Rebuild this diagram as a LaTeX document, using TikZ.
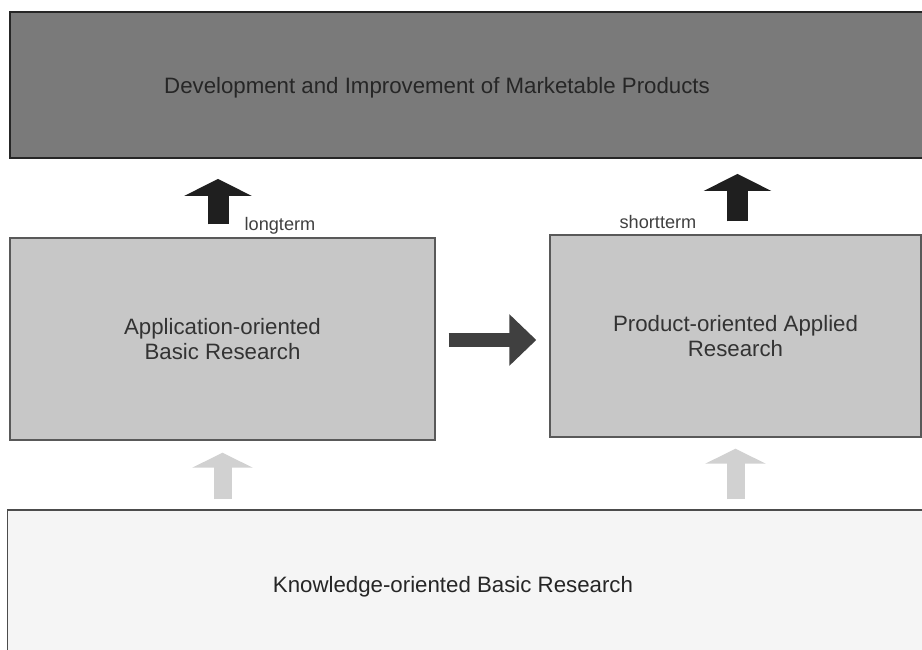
\documentclass[tikz,border=0pt]{standalone}
\usepackage{fontspec}
\setmainfont{Liberation Sans}
\usetikzlibrary{arrows.meta}
\tikzstyle{topband} = [
    rectangle,
    minimum width=27.6cm,
    minimum height=4.38cm,
    fill=black!52,
    draw=black!85,
    line width=1.6pt
]
\tikzstyle{research} = [
    rectangle,
    minimum height=6.06cm,
    fill=black!22,
    draw=black!65,
    line width=1.2pt,
    align=center,
    text=black!80,
    font=\fontsize{19}{22}\selectfont
]
\tikzstyle{baseband} = [
    rectangle,
    minimum width=27.7cm,
    minimum height=4.5cm,
    fill=black!4,
    draw=black!70,
    line width=1.2pt
]
\tikzstyle{bigtext} = [font=\fontsize{19}{22}\selectfont, text=black!85]
\tikzstyle{termtext} = [font=\fontsize{15.5}{18}\selectfont, text=black!75]
\tikzstyle{uparrow} = [
    line width=0.63cm,
    draw=black!88,
    -{Triangle[width=2.01cm, length=0.51cm]}
]
\tikzstyle{sidearrow} = [
    line width=0.42cm,
    draw=black!75,
    -{Triangle[width=1.5cm, length=0.81cm]}
]
\tikzstyle{lightarrow} = [
    line width=0.54cm,
    draw=black!18,
    -{Triangle[width=1.8cm, length=0.45cm]}
]

\begin{document}
\begin{tikzpicture}[x=0.03cm, y=-0.03cm]

\useasboundingbox (0,0) rectangle (922,650);
\clip (0,0) rectangle (922,650);

\node (market) [topband] at (470,85) {};

\node (markettext) [bigtext] at (437,88)
{Development and Improvement of Marketable Products};

\node (appl) [research, minimum width=12.75cm] at (222.5,339)
{Application-oriented\\Basic Research};

\node (prod) [research, minimum width=11.13cm] at (735.5,336)
{Product-oriented Applied\\Research};

\node (know) [baseband] at (469,585) {};

\node (knowtext) [bigtext] at (453,587)
{Knowledge-oriented Basic Research};

\node (longterm) [termtext] at (280,226) {longterm};

\node (shortterm) [termtext] at (658,222) {shortterm};

\draw [uparrow, shorten <=0.39cm, shorten >=0.6cm]
([xshift=-0.135cm]appl.north) -- ([xshift=-0.135cm]appl.north |- market.south);
\draw [uparrow, shorten <=0.39cm, shorten >=0.45cm]
([xshift=0.06cm]prod.north) -- ([xshift=0.06cm]prod.north |- market.south);

\draw [sidearrow, shorten <=0.39cm, shorten >=0.39cm]
([yshift=-0.03cm]appl.east) -- ([yshift=-0.03cm]appl.east -| prod.west);

\draw [lightarrow, shorten <=0.3cm, shorten >=0.36cm]
(appl.south |- know.north) -- (appl.south);
\draw [lightarrow, shorten <=0.3cm, shorten >=0.33cm]
(prod.south |- know.north) -- (prod.south);

\end{tikzpicture}
\end{document}
